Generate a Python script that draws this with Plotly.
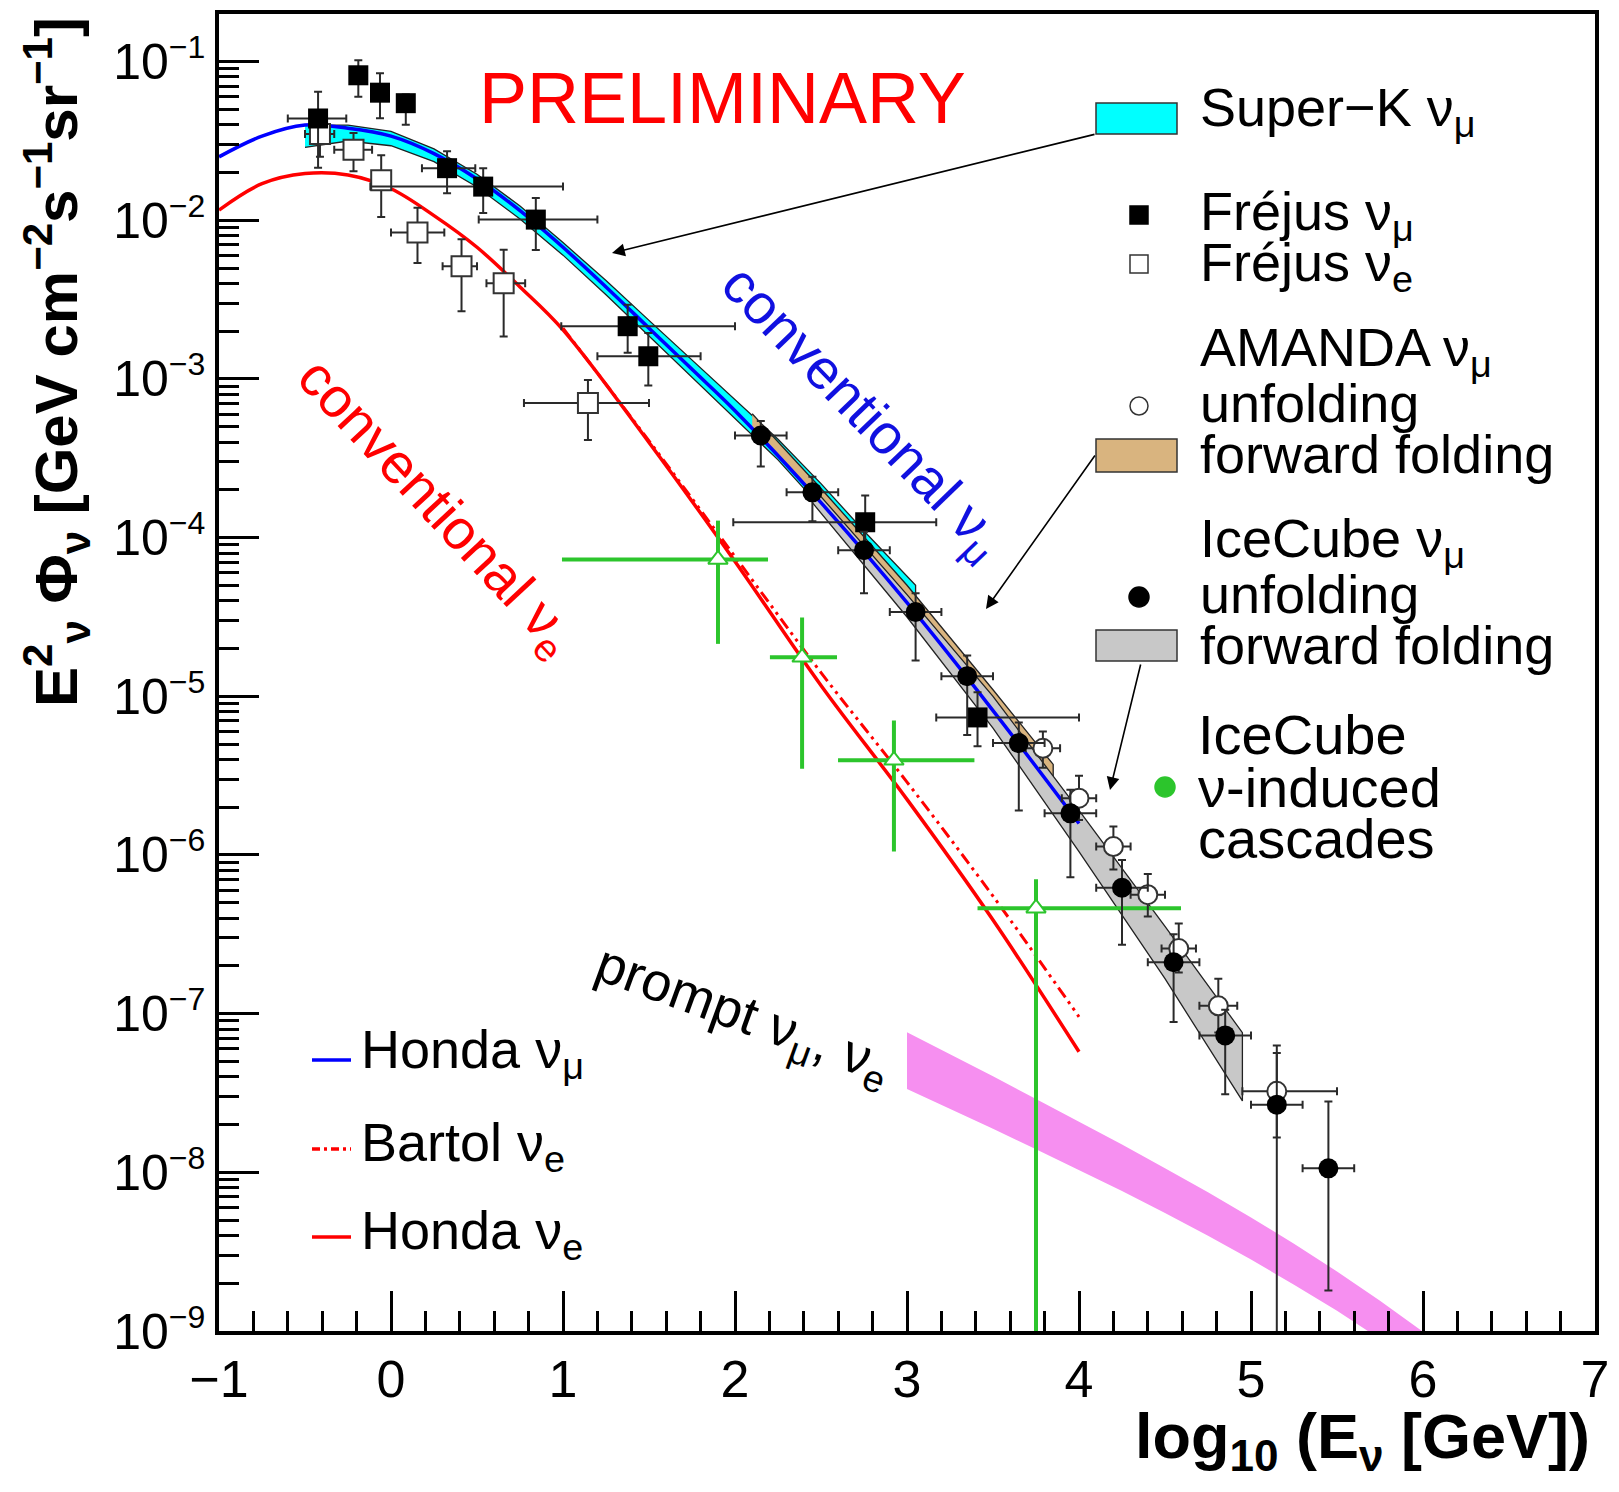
import numpy as np
import plotly.graph_objects as go

# ---------------- data: x = log10(E_nu / GeV), y = E^2 Phi [GeV cm^-2 s^-1 sr^-1] ----------------
honda_numu_x = [-1.0, -0.75, -0.5, -0.25, 0.0, 0.25, 0.5, 0.75, 1.0, 1.25, 1.5, 1.75, 2.0, 2.5, 3.0, 3.5, 4.0]
honda_numu_y = [2.51e-2, 3.39e-2, 3.98e-2, 3.80e-2, 3.39e-2, 2.63e-2, 1.82e-2, 1.15e-2, 6.76e-3, 3.80e-3,
                2.09e-3, 1.15e-3, 6.31e-4, 1.66e-4, 3.89e-5, 8.13e-6, 1.58e-6]

honda_nue_x = [-1.0, -0.75, -0.5, -0.25, 0.0, 0.25, 0.5, 0.75, 1.0, 1.5, 2.0, 2.5, 3.0, 3.5, 4.0]
honda_nue_y = [1.16e-2, 1.70e-2, 1.97e-2, 1.93e-2, 1.58e-2, 1.07e-2, 6.76e-3, 3.80e-3, 2.04e-3, 3.98e-4,
               7.08e-5, 1.17e-5, 2.24e-6, 3.89e-7, 5.75e-8]

bartol_nue_x = [1.0, 1.5, 2.0, 2.5, 3.0, 3.5, 4.0]
bartol_nue_y = [2.09e-3, 4.07e-4, 7.59e-5, 1.41e-5, 2.88e-6, 5.50e-7, 9.55e-8]

superk_x = [-0.5, -0.25, 0.0, 0.25, 0.5, 0.75, 1.0, 1.25, 1.5, 1.75, 2.0, 2.25, 2.5, 2.75, 3.05]
superk_hi = [3.98e-2, 3.98e-2, 3.63e-2, 2.82e-2, 1.95e-2, 1.23e-2, 7.24e-3, 4.17e-3, 2.34e-3, 1.32e-3,
             7.41e-4, 4.17e-4, 2.19e-4, 1.10e-4, 5.01e-5]
superk_lo = [2.88e-2, 3.16e-2, 2.95e-2, 2.34e-2, 1.62e-2, 1.02e-2, 6.03e-3, 3.39e-3, 1.86e-3, 1.02e-3,
             5.62e-4, 3.09e-4, 1.55e-4, 7.59e-5, 3.98e-5]

amanda_ff_x = [2.1, 2.5, 3.0, 3.5, 3.85]
amanda_ff_hi = [6.03e-4, 2.04e-4, 5.01e-5, 1.10e-5, 3.72e-6]
amanda_ff_lo = [4.90e-4, 1.66e-4, 3.98e-5, 8.71e-6, 2.88e-6]

icecube_ff_x = [2.45, 3.0, 3.5, 4.0, 4.5, 4.95]
icecube_ff_hi = [2.09e-4, 4.37e-5, 1.0e-5, 1.91e-6, 3.55e-7, 7.59e-8]
icecube_ff_lo = [1.66e-4, 3.16e-5, 6.31e-6, 1.05e-6, 1.66e-7, 2.82e-8]

prompt_x = [3.0, 3.25, 3.5, 3.75, 4.0, 4.25, 4.5, 4.75, 5.0, 5.25, 5.5, 5.75, 6.0, 6.25]
prompt_hi = [7.64e-8, 5.56e-8, 4.03e-8, 2.90e-8, 2.09e-8, 1.50e-8, 1.06e-8, 7.48e-9, 5.19e-9, 3.55e-9,
             2.37e-9, 1.55e-9, 9.89e-10, 6.17e-10]
prompt_lo = [3.35e-8, 2.51e-8, 1.88e-8, 1.40e-8, 1.04e-8, 7.64e-9, 5.55e-9, 3.98e-9, 2.82e-9, 1.96e-9,
             1.34e-9, 8.91e-10, 5.75e-10, 3.63e-10]

# IceCube nu_mu unfolding (filled circles)
ic_x = [2.15, 2.45, 2.75, 3.05, 3.35, 3.65, 3.95, 4.25, 4.55, 4.85, 5.15, 5.45]
ic_x_lo = [2.0, 2.3, 2.6, 2.9, 3.2, 3.5, 3.8, 4.1, 4.4, 4.7, 5.0, 5.3]
ic_x_hi = [2.3, 2.6, 2.9, 3.2, 3.5, 3.8, 4.1, 4.4, 4.7, 5.0, 5.3, 5.6]
ic_y = [4.40e-4, 1.93e-4, 8.34e-5, 3.40e-5, 1.34e-5, 5.07e-6, 1.83e-6, 6.22e-7, 2.11e-7, 7.29e-8, 2.67e-8, 1.06e-8]
ic_y_hi = [5.43e-4, 2.42e-4, 1.09e-4, 4.46e-5, 1.81e-5, 6.84e-6, 2.58e-6, 9.31e-7, 3.16e-7, 1.06e-7, 5.65e-8, 2.79e-8]
ic_y_lo = [2.81e-4, 1.27e-4, 4.46e-5, 1.68e-5, 5.71e-6, 1.91e-6, 7.23e-7, 2.72e-7, 8.85e-8, 3.10e-8, 1.0e-10, 1.80e-9]

# AMANDA nu_mu unfolding (open circles)
am_x = [3.79, 4.0, 4.20, 4.40, 4.58, 4.81, 5.15]
am_x_lo = [3.69, 3.90, 4.10, 4.30, 4.48, 4.70, 4.95]
am_x_hi = [3.89, 4.10, 4.30, 4.50, 4.68, 4.92, 5.50]
am_y = [4.70e-6, 2.28e-6, 1.13e-6, 5.62e-7, 2.57e-7, 1.12e-7, 3.24e-8]
am_y_hi = [6.0e-6, 3.16e-6, 1.51e-6, 7.6e-7, 3.7e-7, 1.66e-7, 6.3e-8]
am_y_lo = [3.55e-6, 1.66e-6, 8.1e-7, 4.1e-7, 1.82e-7, 7.6e-8, 1.66e-8]

# Frejus nu_mu (filled squares)
fm_x = [-0.424, -0.190, -0.064, 0.086, 0.326, 0.536, 0.842, 1.376, 1.496, 2.757, 3.41]
fm_x_lo = [-0.60, -0.21, -0.08, 0.07, 0.18, -0.12, 0.51, 0.99, 1.20, 1.99, 3.17]
fm_x_hi = [-0.26, -0.17, -0.05, 0.10, 0.49, 1.00, 1.20, 2.00, 1.80, 3.17, 4.00]
fm_y = [4.38e-2, 8.20e-2, 6.37e-2, 5.47e-2, 2.13e-2, 1.63e-2, 1.01e-2, 2.15e-3, 1.39e-3, 1.25e-4, 7.36e-6]
fm_y_hi = [6.46e-2, 1.02e-1, 8.45e-2, 6.2e-2, 2.72e-2, 2.13e-2, 1.38e-2, 2.93e-3, 1.95e-3, 1.84e-4, 1.06e-5]
fm_y_lo = [2.14e-2, 6.0e-2, 4.4e-2, 4.0e-2, 1.48e-2, 1.11e-2, 6.5e-3, 1.46e-3, 9.1e-4, 8.9e-5, 4.84e-6]

# Frejus nu_e (open squares)
fe_x = [-0.413, -0.218, -0.057, 0.154, 0.41, 0.655, 1.145]
fe_x_lo = [-0.50, -0.33, -0.10, 0.0, 0.30, 0.555, 0.773]
fe_x_hi = [-0.33, -0.11, -0.01, 0.31, 0.50, 0.78, 1.50]
fe_y = [3.50e-2, 2.78e-2, 1.79e-2, 8.38e-3, 5.13e-3, 4.01e-3, 7.05e-4]
fe_y_hi = [4.37e-2, 3.55e-2, 2.57e-2, 1.20e-2, 7.59e-3, 6.52e-3, 9.86e-4]
fe_y_lo = [2.51e-2, 2.04e-2, 1.05e-2, 5.37e-3, 2.67e-3, 1.85e-3, 4.13e-4]

# IceCube nu-induced cascades (green)
cas_x = [1.901, 2.390, 2.924, 3.750]
cas_x_lo = [0.994, 2.203, 2.599, 3.41]
cas_x_hi = [2.192, 2.593, 3.392, 4.593]
cas_y = [7.29e-5, 1.76e-5, 3.95e-6, 4.62e-7]
cas_y_hi = [1.28e-4, 3.14e-5, 7.05e-6, 7.03e-7]
cas_y_lo = [2.14e-5, 3.50e-6, 1.05e-6, 1.0e-10]

x_ticks = [-1, 0, 1, 2, 3, 4, 5, 6, 7]
y_exponents = [-9, -8, -7, -6, -5, -4, -3, -2, -1]

# ---------------- styling ----------------
FONT = "Liberation Sans, Arial, Helvetica, sans-serif"
W, H = 1619, 1492
L, R, T, B = 219, 1595, 14, 1331   # plot frame in pixels
GREEN = "#2cc52c"
ERRC = "#2a2a2a"


def px(x):
    return (x - L) / (R - L)


def py(y):
    return (B - y) / (B - T)


def yerr(y, hi, lo, color=ERRC, th=2, w=4):
    y, hi, lo = map(np.asarray, (y, hi, lo))
    return dict(type="data", symmetric=False, array=hi - y, arrayminus=y - lo,
                color=color, thickness=th, width=w)


def xerr(x, lo, hi, color=ERRC, th=2, w=4):
    x, lo, hi = map(np.asarray, (x, lo, hi))
    return dict(type="data", symmetric=False, array=hi - x, arrayminus=x - lo,
                color=color, thickness=th, width=w)


def band(x, hi, lo, fill, outline):
    return go.Scatter(x=list(x) + list(x)[::-1], y=list(hi) + list(lo)[::-1],
                      fill="toself", fillcolor=fill, mode="lines",
                      line=dict(color=outline, width=1.3), hoverinfo="skip", showlegend=False)


fig = go.Figure()

# bands
fig.add_trace(band(prompt_x, prompt_hi, prompt_lo, "#f68ff0", "rgba(0,0,0,0)"))
fig.add_trace(band(superk_x, superk_hi, superk_lo, "#00ffff", "#222222"))
fig.add_trace(band(amanda_ff_x, amanda_ff_hi, amanda_ff_lo, "#d9b47f", "#222222"))
fig.add_trace(band(icecube_ff_x, icecube_ff_hi, icecube_ff_lo, "#c8c8c8", "#222222"))

# model curves
fig.add_trace(go.Scatter(x=honda_numu_x, y=honda_numu_y, mode="lines",
                         line=dict(color="#0000ff", width=3.5, shape="spline"), showlegend=False))
fig.add_trace(go.Scatter(x=bartol_nue_x, y=bartol_nue_y, mode="lines",
                         line=dict(color="#ff0000", width=3, shape="spline",
                                   dash="12px,5px,3px,5px,3px,5px"), showlegend=False))
fig.add_trace(go.Scatter(x=honda_nue_x, y=honda_nue_y, mode="lines",
                         line=dict(color="#ff0000", width=3.5, shape="spline"), showlegend=False))

# cascades
fig.add_trace(go.Scatter(x=cas_x, y=cas_y, mode="markers",
                         marker=dict(symbol="triangle-up", size=17, color="white",
                                     line=dict(color=GREEN, width=2)),
                         error_y=yerr(cas_y, cas_y_hi, cas_y_lo, GREEN, 4, 0),
                         error_x=xerr(cas_x, cas_x_lo, cas_x_hi, GREEN, 4, 0), showlegend=False))

# Frejus nu_e
fig.add_trace(go.Scatter(x=fe_x, y=fe_y, mode="markers",
                         marker=dict(symbol="square", size=20, color="white",
                                     line=dict(color="#333333", width=2)),
                         error_y=yerr(fe_y, fe_y_hi, fe_y_lo),
                         error_x=xerr(fe_x, fe_x_lo, fe_x_hi), showlegend=False))
# Frejus nu_mu
fig.add_trace(go.Scatter(x=fm_x, y=fm_y, mode="markers",
                         marker=dict(symbol="square", size=20, color="black"),
                         error_y=yerr(fm_y, fm_y_hi, fm_y_lo),
                         error_x=xerr(fm_x, fm_x_lo, fm_x_hi), showlegend=False))
# AMANDA unfolding
fig.add_trace(go.Scatter(x=am_x, y=am_y, mode="markers",
                         marker=dict(symbol="circle", size=19, color="white",
                                     line=dict(color="#333333", width=2)),
                         error_y=yerr(am_y, am_y_hi, am_y_lo),
                         error_x=xerr(am_x, am_x_lo, am_x_hi), showlegend=False))
# IceCube unfolding
fig.add_trace(go.Scatter(x=ic_x, y=ic_y, mode="markers",
                         marker=dict(symbol="circle", size=20, color="black"),
                         error_y=yerr(ic_y, ic_y_hi, ic_y_lo),
                         error_x=xerr(ic_x, ic_x_lo, ic_x_hi), showlegend=False))

# ---------------- axes ----------------
y_minor = [m * 10.0 ** k for k in y_exponents for m in range(2, 10) if m * 10.0 ** k < 10 ** -0.70]
x_minor = [round(v, 1) for v in np.arange(-1, 7.001, 0.2)]

fig.update_xaxes(range=[-1, 7], tickmode="array", tickvals=x_ticks,
                 ticktext=[("−" + str(-v)) if v < 0 else str(v) for v in x_ticks],
                 ticks="inside", ticklen=40, tickwidth=2.5, tickcolor="black",
                 minor=dict(tickmode="array", tickvals=x_minor, ticks="inside", ticklen=20,
                            tickwidth=2.5, tickcolor="black"),
                 showline=True, linewidth=3.5, linecolor="black", mirror=True,
                 showgrid=False, zeroline=False, automargin=False,
                 tickfont=dict(family=FONT, size=52, color="black"))
fig.update_yaxes(type="log", range=[-9, -0.70], tickmode="array",
                 tickvals=[10.0 ** k for k in y_exponents],
                 ticktext=['10<sup><span style="font-size:32px">−%d</span></sup>' % (-k) for k in y_exponents],
                 ticks="inside", ticklen=40, tickwidth=2.5, tickcolor="black",
                 minor=dict(tickmode="array", tickvals=y_minor, ticks="inside", ticklen=20,
                            tickwidth=2.5, tickcolor="black"),
                 showline=True, linewidth=3.5, linecolor="black", mirror=True,
                 showgrid=False, zeroline=False, automargin=False,
                 tickfont=dict(family=FONT, size=50, color="black"))

# ---------------- annotations & legend ----------------
ann = []


def text(x, y, s, size=54, color="black", xanchor="left", angle=0, bold=False):
    if bold:
        s = "<b>" + s + "</b>"
    ann.append(dict(x=px(x), y=py(y), xref="paper", yref="paper", text=s, showarrow=False,
                    xanchor=xanchor, yanchor="middle", textangle=angle,
                    font=dict(family=FONT, size=size, color=color)))


def arrow(x0, y0, x1, y1):
    ann.append(dict(x=px(x1), y=py(y1), xref="paper", yref="paper", text="",
                    showarrow=True, ax=x0 - x1, ay=y0 - y1, axref="pixel", ayref="pixel",
                    arrowhead=2, arrowsize=1.6, arrowwidth=1.6, arrowcolor="black"))


text(477, 98, "PRELIMINARY", size=72, color="#ff0000")
text(1198, 111, "Super−K ν<sub>μ</sub>")
text(1198, 215, "Fréjus ν<sub>μ</sub>")
text(1198, 266, "Fréjus ν<sub>e</sub>")
text(1198, 351, "AMANDA ν<sub>μ</sub>")
text(1198, 403, "unfolding")
text(1198, 454, "forward folding")
text(1198, 542, "IceCube ν<sub>μ</sub>")
text(1198, 594, "unfolding")
text(1198, 645, "forward folding")
text(1196, 735, "IceCube", size=56)
text(1196, 787, "ν-induced", size=56)
text(1196, 838, "cascades", size=56)
text(359, 1053, "Honda ν<sub>μ</sub>")
text(359, 1146, "Bartol ν<sub>e</sub>")
text(359, 1234, "Honda ν<sub>e</sub>")

text(862, 413, "conventional ν<sub>μ</sub>", size=56, color="#1010e0", xanchor="center", angle=46)
text(436, 508, "conventional ν<sub>e</sub>", size=56, color="#ff0000", xanchor="center", angle=47)
text(743, 1017, "prompt ν<sub>μ</sub>, ν<sub>e</sub>", size=54, xanchor="center", angle=20)

# axis titles
text(1592, 1440, "log<sub>10</sub> (E<sub>ν</sub> [GeV])", size=63, xanchor="right", bold=True)
text(57, 362, "E<sup>2</sup><sub>ν</sub> Φ<sub>ν</sub> [GeV cm<sup>−2</sup>s<sup>−1</sup>sr<sup>−1</sup>]",
     size=60, xanchor="center", angle=-90, bold=True)

arrow(1096, 134, 612, 253)
arrow(1096, 454, 986, 609)
arrow(1141, 663, 1110, 790)

shapes = []


def rect(x0, y0, x1, y1, fill, line="#333333", kind="rect", lw=1.5):
    shapes.append(dict(type=kind, xref="paper", yref="paper", x0=px(x0), x1=px(x1),
                       y0=py(y1), y1=py(y0), fillcolor=fill, line=dict(color=line, width=lw),
                       layer="above"))


def seg(x0, x1, y, color, dash="solid"):
    shapes.append(dict(type="line", xref="paper", yref="paper", x0=px(x0), x1=px(x1),
                       y0=py(y), y1=py(y), line=dict(color=color, width=3.5, dash=dash), layer="above"))


rect(1096, 103, 1177, 134, "#00ffff")
rect(1130, 206, 1148, 224, "black", "black")
rect(1130, 255, 1148, 273, "white", "#333333")
rect(1130, 397, 1148, 415, "white", "#333333", "circle")
rect(1096, 439, 1177, 472, "#d9b47f")
rect(1129, 587, 1149, 607, "black", "black", "circle")
rect(1096, 630, 1177, 661, "#c8c8c8")
rect(1155, 777, 1175, 797, GREEN, GREEN, "circle")
seg(312, 351, 1060, "#0000ff")
seg(312, 351, 1149, "#ff0000", "8px,4px,3px,4px")
seg(312, 351, 1237, "#ff0000")

fig.update_layout(width=W, height=H, margin=dict(l=L, r=W - R, t=T, b=H - B),
                  paper_bgcolor="white", plot_bgcolor="white", showlegend=False,
                  annotations=ann, shapes=shapes, font=dict(family=FONT))

fig.write_html("out.html", config={"displayModeBar": False},
               post_script="document.body.style.margin='0px';")
